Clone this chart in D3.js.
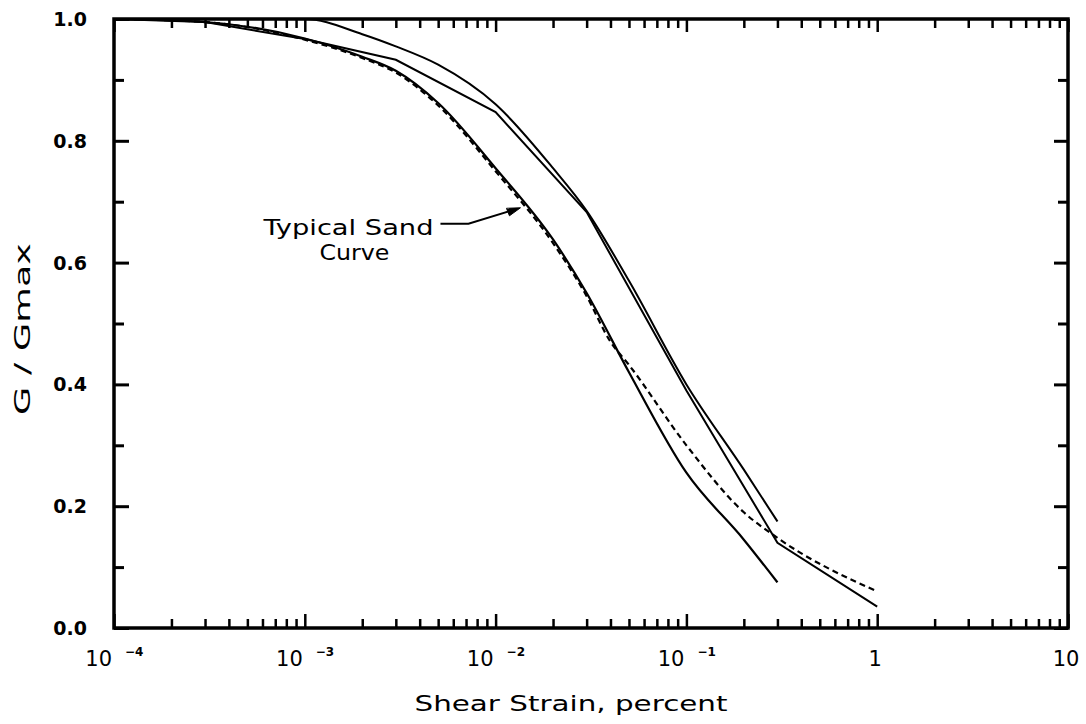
<!DOCTYPE html>
<html>
<head>
<meta charset="utf-8">
<script src="https://cdn.jsdelivr.net/npm/d3@7"></script>
<style>
  html, body { margin: 0; padding: 0; background: #fff; }
  svg { display: block; }
  text { font-family: "DejaVu Sans", sans-serif; fill: #000; }
</style>
</head>
<body>
<svg id="chart" width="1086" height="724"></svg>
<script>
// ---- data (shear strain in percent, G/Gmax) ----
const upperStrain = [1e-4, 1e-3, 2e-3, 3e-3, 5e-3, 1e-2, 2e-2, 3e-2, 5e-2, 1e-1, 2e-1, 3e-1];
const upperRatio  = [1.0, 1.0, 0.975, 0.955, 0.925, 0.86, 0.755, 0.685, 0.57, 0.40, 0.26, 0.175];

const midStrain = [1e-4, 3e-4, 1e-3, 3e-3, 1e-2, 3e-2, 1e-1, 3e-1, 1];
const midRatio  = [1.0, 0.995, 0.967, 0.933, 0.847, 0.683, 0.39, 0.14, 0.035];

const lowerStrain = [1e-4, 3e-4, 1e-3, 2e-3, 3e-3, 5e-3, 1e-2, 2e-2, 3e-2, 5e-2, 1e-1, 2e-1, 3e-1];
const lowerRatio  = [1.0, 0.995, 0.968, 0.938, 0.915, 0.862, 0.755, 0.638, 0.55, 0.42, 0.255, 0.145, 0.075];

const sandStrain = [1e-4, 3e-4, 1e-3, 2e-3, 3e-3, 5e-3, 1e-2, 2e-2, 3e-2, 4e-2, 5e-2, 1e-1, 2e-1, 3e-1, 1];
const sandRatio  = [1.0, 0.995, 0.966, 0.936, 0.912, 0.858, 0.75, 0.632, 0.545, 0.47, 0.432, 0.30, 0.19, 0.148, 0.06];

const yTicks = [0, 0.2, 0.4, 0.6, 0.8, 1.0];
const yMinorTicks = [0.1, 0.3, 0.5, 0.7, 0.9];
const xDecades = [1e-4, 1e-3, 1e-2, 1e-1, 1, 10];
const xDecadeExp = ["-4", "-3", "-2", "-1", null, null];
const xDecadePlain = [null, null, null, null, "1", "10"];

const annotationLines = ["Typical Sand", "Curve"];
const annotationTip = [0.0135, 0.69];

const xTitle = "Shear Strain, percent";
const yTitle = "G / Gmax";

// ---- layout ----
const svg = d3.select("#chart");
const pLeft = 114, pRight = 1068, pTop = 19, pBottom = 628;

const x = d3.scaleLog().domain([1e-4, 10]).range([pLeft, pRight]);
const y = d3.scaleLinear().domain([0, 1]).range([pBottom, pTop]);

const xMinor = [];
for (let d = 0; d < xDecades.length - 1; d++) {
  for (let k = 2; k <= 9; k++) xMinor.push(xDecades[d] * k);
}

function styleAxis(g, w) {
  g.select(".domain").remove();
  g.selectAll(".tick line").attr("stroke", "#000").attr("stroke-width", w);
  g.selectAll(".tick text").remove();
}

// bottom axis
svg.append("g").attr("transform", `translate(0,${pBottom})`)
  .call(d3.axisBottom(x).tickValues(xMinor).tickSize(-9).tickFormat(""))
  .call(g => styleAxis(g, 2.5));
svg.append("g").attr("transform", `translate(0,${pBottom})`)
  .call(d3.axisBottom(x).tickValues(xDecades).tickSize(-14).tickFormat(""))
  .call(g => styleAxis(g, 2.5));
// top axis
svg.append("g").attr("transform", `translate(0,${pTop})`)
  .call(d3.axisTop(x).tickValues(xMinor).tickSize(-9).tickFormat(""))
  .call(g => styleAxis(g, 2.5));
svg.append("g").attr("transform", `translate(0,${pTop})`)
  .call(d3.axisTop(x).tickValues(xDecades).tickSize(-13).tickFormat(""))
  .call(g => styleAxis(g, 2.5));
// left axis
svg.append("g").attr("transform", `translate(${pLeft},0)`)
  .call(d3.axisLeft(y).tickValues(yMinorTicks).tickSize(-10).tickFormat(""))
  .call(g => styleAxis(g, 3));
svg.append("g").attr("transform", `translate(${pLeft},0)`)
  .call(d3.axisLeft(y).tickValues(yTicks).tickSize(-15).tickFormat(""))
  .call(g => styleAxis(g, 3));
// right axis
svg.append("g").attr("transform", `translate(${pRight},0)`)
  .call(d3.axisRight(y).tickValues(yMinorTicks).tickSize(-10).tickFormat(""))
  .call(g => styleAxis(g, 3));
svg.append("g").attr("transform", `translate(${pRight},0)`)
  .call(d3.axisRight(y).tickValues(yTicks).tickSize(-14).tickFormat(""))
  .call(g => styleAxis(g, 3));

// frame
svg.append("rect")
  .attr("x", pLeft).attr("y", pTop)
  .attr("width", pRight - pLeft).attr("height", pBottom - pTop)
  .attr("fill", "none").attr("stroke", "#000").attr("stroke-width", 3.5);

// y tick labels
svg.append("g").selectAll("text").data(yTicks).join("text")
  .attr("x", 87).attr("y", d => y(d) + 7)
  .attr("text-anchor", "end")
  .style("font-size", "19px").style("font-weight", "bold")
  .text(d => d.toFixed(1));

// x tick labels
const xl = svg.append("g");
xDecades.forEach((d, i) => {
  if (xDecadeExp[i]) {
    xl.append("text").attr("x", x(d) - 2).attr("y", 666)
      .attr("text-anchor", "end").style("font-size", "21px").text("10");
    xl.append("text").attr("x", x(d) + 11).attr("y", 656)
      .attr("text-anchor", "start").style("font-size", "12px").style("font-weight", "bold")
      .text("\u2212" + xDecadeExp[i].replace("-", ""));
  } else {
    xl.append("text").attr("x", x(d) - 2).attr("y", 666)
      .attr("text-anchor", "middle").style("font-size", "21px").text(xDecadePlain[i]);
  }
});

// axis titles
svg.append("text").attr("x", 571).attr("y", 711)
  .attr("text-anchor", "middle").style("font-size", "22px")
  .attr("textLength", 313).attr("lengthAdjust", "spacingAndGlyphs")
  .text(xTitle);
svg.append("text").attr("transform", "translate(30,329) rotate(-90)")
  .attr("text-anchor", "middle").style("font-size", "21px")
  .attr("textLength", 172).attr("lengthAdjust", "spacingAndGlyphs")
  .text(yTitle);

// curves
const line = d3.line().x(d => x(d[0])).y(d => y(d[1])).curve(d3.curveMonotoneX);
const lineLin = d3.line().x(d => x(d[0])).y(d => y(d[1]));
const zip = (a, b) => a.map((v, i) => [v, b[i]]);

const plot = svg.append("g");
plot.append("path").datum(zip(sandStrain, sandRatio)).attr("d", line)
  .attr("fill", "none").attr("stroke", "#000").attr("stroke-width", 2.2)
  .attr("stroke-dasharray", "6,4");
plot.append("path").datum(zip(upperStrain, upperRatio)).attr("d", line)
  .attr("fill", "none").attr("stroke", "#000").attr("stroke-width", 2);
plot.append("path").datum(zip(midStrain, midRatio)).attr("d", lineLin)
  .attr("fill", "none").attr("stroke", "#000").attr("stroke-width", 2);
plot.append("path").datum(zip(lowerStrain, lowerRatio)).attr("d", line)
  .attr("fill", "none").attr("stroke", "#000").attr("stroke-width", 2.2);

// annotation
const tipX = x(annotationTip[0]), tipY = y(annotationTip[1]);
const ann = svg.append("g");
ann.append("text").attr("x", tipX - 172).attr("y", tipY + 27)
  .attr("text-anchor", "middle").style("font-size", "22px")
  .attr("textLength", 170).attr("lengthAdjust", "spacingAndGlyphs")
  .text(annotationLines[0]);
ann.append("text").attr("x", tipX - 166).attr("y", tipY + 52)
  .attr("text-anchor", "middle").style("font-size", "22px")
  .attr("textLength", 70).attr("lengthAdjust", "spacingAndGlyphs")
  .text(annotationLines[1]);
ann.append("path")
  .attr("d", `M${tipX - 80},${tipY + 16} L${tipX - 52},${tipY + 16} L${tipX - 10},${tipY + 3}`)
  .attr("fill", "none").attr("stroke", "#000").attr("stroke-width", 2);
ann.append("path")
  .attr("d", `M${tipX},${tipY} L${tipX - 14},${tipY + 0.5} L${tipX - 11},${tipY + 8} Z`)
  .attr("fill", "#000").attr("stroke", "#000").attr("stroke-width", 1);
</script>
</body>
</html>
